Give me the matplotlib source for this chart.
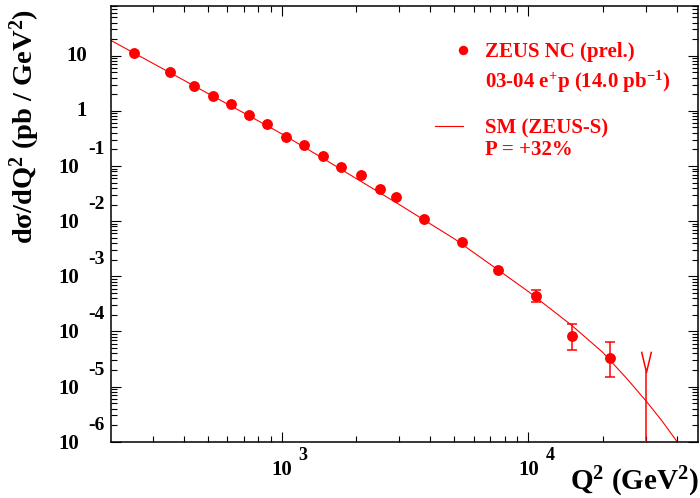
import matplotlib
matplotlib.use("Agg")
import matplotlib.pyplot as plt
from matplotlib.path import Path
from matplotlib.lines import Line2D
from matplotlib.ticker import LogLocator, NullFormatter
import numpy as np

plt.rcParams['font.family'] = ['Liberation Serif', 'DejaVu Serif']
plt.rcParams['font.weight'] = 'bold'
plt.rcParams['mathtext.fontset'] = 'custom'
plt.rcParams['mathtext.rm'] = 'Liberation Serif:bold'
plt.rcParams['mathtext.it'] = 'Liberation Serif:bold'
plt.rcParams['mathtext.bf'] = 'Liberation Serif:bold'

RED = '#ff0000'

# ZEUS NC e+p 03-04 data points
q2 = [252, 352, 442, 525, 624, 735, 874, 1041, 1234, 1467, 1740, 2101,
      2497, 2900, 3787, 5395, 7555, 10735, 15080, 21350]
xsec = [11.33, 5.06, 2.857, 1.858, 1.314, 0.8405, 0.570, 0.3354, 0.2432,
        0.1517, 0.0946, 0.0686, 0.0382, 0.02716, 0.01101, 0.00413, 0.0013,
        4.48e-4, 8.15e-5, 3.25e-5]
err_hi = [0]*17 + [1.16e-4, 5.3e-5, 3.25e-5]
err_lo = [0]*17 + [1.02e-4, 3.49e-5, 1.74e-5]

# last bin: no measured value, only the limit marker
lim_q2 = 30000
lim_val = 1.86e-5

# SM (ZEUS-S) prediction
sm_q2 = [203, 300, 500, 700, 1000, 1500, 2000, 3000, 5000, 7000, 10000,
         15000, 20000, 25000, 30000, 35000, 40000, 45000]
sm_xsec = [18.9, 7.28, 2.09, 0.921, 0.383, 0.130, 0.0595, 0.0199, 0.0048,
           0.00165, 5.27e-4, 1.28e-4, 4.18e-5, 1.41e-5, 5.47e-6, 2.30e-6,
           1.01e-6, 5.1e-7]

y_exps = list(range(-6, 2))
x_exps = [3, 4]

fig = plt.figure(figsize=(7.0, 4.98), dpi=100)
ax = fig.add_axes([111/700, 1 - 441.7/498, (698 - 111)/700, (441.7 - 5.7)/498])
ax.set_xscale('log')
ax.set_yscale('log')
ax.set_xlim(203, 48700)
ax.set_ylim(1e-6, 80.7)

# SM curve
sm_line, = ax.plot(sm_q2, sm_xsec, '-', color=RED, lw=0.8, zorder=2)

# data
pts, = ax.plot(q2, xsec, 'o', color=RED, ms=6.8, zorder=4)
idx = np.nonzero(err_hi)[0]
ax.errorbar(np.array(q2)[idx], np.array(xsec)[idx],
            yerr=[np.array(err_lo)[idx], np.array(err_hi)[idx]],
            fmt='none', ecolor=RED, elinewidth=1.1, capsize=3.3,
            capthick=1.1, zorder=3)

# limit bin: line from the bottom of the frame + open V marker
v_marker = Path([(-5, 21), (0, 0), (5, 21)],
                [Path.MOVETO, Path.LINETO, Path.LINETO])
ax.plot([lim_q2, lim_q2], [ax.get_ylim()[0], lim_val], '-', color=RED,
        lw=1.1, zorder=3)
ax.plot([lim_q2], [lim_val], marker=v_marker, ms=30, mfc='none', mec=RED,
        mew=1.1, ls='none', zorder=3)

# ticks, ROOT style (inside, all four sides)
ax.xaxis.set_minor_locator(LogLocator(base=10, subs=np.arange(2, 10), numticks=20))
ax.yaxis.set_major_locator(LogLocator(base=10, numticks=20))
ax.yaxis.set_minor_locator(LogLocator(base=10, subs=np.arange(2, 10), numticks=20))
ax.xaxis.set_minor_formatter(NullFormatter())
ax.yaxis.set_minor_formatter(NullFormatter())
ax.tick_params(which='both', direction='in', top=True, right=True,
               labelbottom=False, labelleft=False, width=0.8)
ax.tick_params(which='major', length=7.5)
ax.tick_params(which='minor', length=4)
for s in ax.spines.values():
    s.set_linewidth(1.1)

# y tick labels: 10, 1, then 10 with raised exponent
for k in y_exps:
    yv = 10.0**k
    if k == 1:
        ax.annotate('10', (0, yv), xycoords=('axes fraction', 'data'),
                    xytext=(-24, 0), textcoords='offset pixels',
                    ha='right', va='center', fontsize=15)
    elif k == 0:
        ax.annotate('1', (0, yv), xycoords=('axes fraction', 'data'),
                    xytext=(-24, 0), textcoords='offset pixels',
                    ha='right', va='center', fontsize=15)
    else:
        ax.annotate('10', (0, yv), xycoords=('axes fraction', 'data'),
                    xytext=(-32, -2), textcoords='offset pixels',
                    ha='right', va='center', fontsize=15)
        ax.annotate('-%d' % (-k), (0, yv), xycoords=('axes fraction', 'data'),
                    xytext=(-6, 16.5), textcoords='offset pixels',
                    ha='right', va='center', fontsize=14)

# x tick labels
for k in x_exps:
    xv = 10.0**k
    ax.annotate('10', (xv, 0), xycoords=('data', 'axes fraction'),
                xytext=(0, -28.5), textcoords='offset pixels',
                ha='center', va='center', fontsize=15)
    ax.annotate('%d' % k, (xv, 0), xycoords=('data', 'axes fraction'),
                xytext=(17, -14), textcoords='offset pixels',
                ha='left', va='center', fontsize=13)

# axis titles
fig.text(25/700, 1 - 9/498, 'dσ/dQ$^{2}$ (pb / GeV$^{2}$)', rotation=90,
         ha='center', va='top', fontsize=20.5)
fig.text(699/700, 1 - 482/498, 'Q$^{2}$ (GeV$^{2}$)', ha='right',
         va='center', fontsize=21)

# legend
blank = Line2D([], [], ls='none', marker='none')
leg1 = ax.legend([pts, blank],
                 ['ZEUS NC (prel.)', '03-04 e$^{+}$p (14.0 pb$^{-1}$)'],
                 loc='upper left', bbox_to_anchor=(456.75/700, 1 - 42/498),
                 bbox_transform=fig.transFigure, frameon=False, fontsize=15,
                 labelcolor=RED, handlelength=0.6, handletextpad=0.756,
                 borderpad=0, borderaxespad=0, labelspacing=0.35,
                 numpoints=1, markerscale=0.85)
ax.add_artist(leg1)
ax.legend([sm_line, blank], ['SM (ZEUS-S)', 'P = +32%'],
          loc='upper left', bbox_to_anchor=(435/700, 1 - 118/498),
          bbox_transform=fig.transFigure, frameon=False, fontsize=15,
          labelcolor=RED, handlelength=1.344, handletextpad=1.056,
          borderpad=0, borderaxespad=0, labelspacing=0.1)

fig.savefig('out.png', dpi=100)
